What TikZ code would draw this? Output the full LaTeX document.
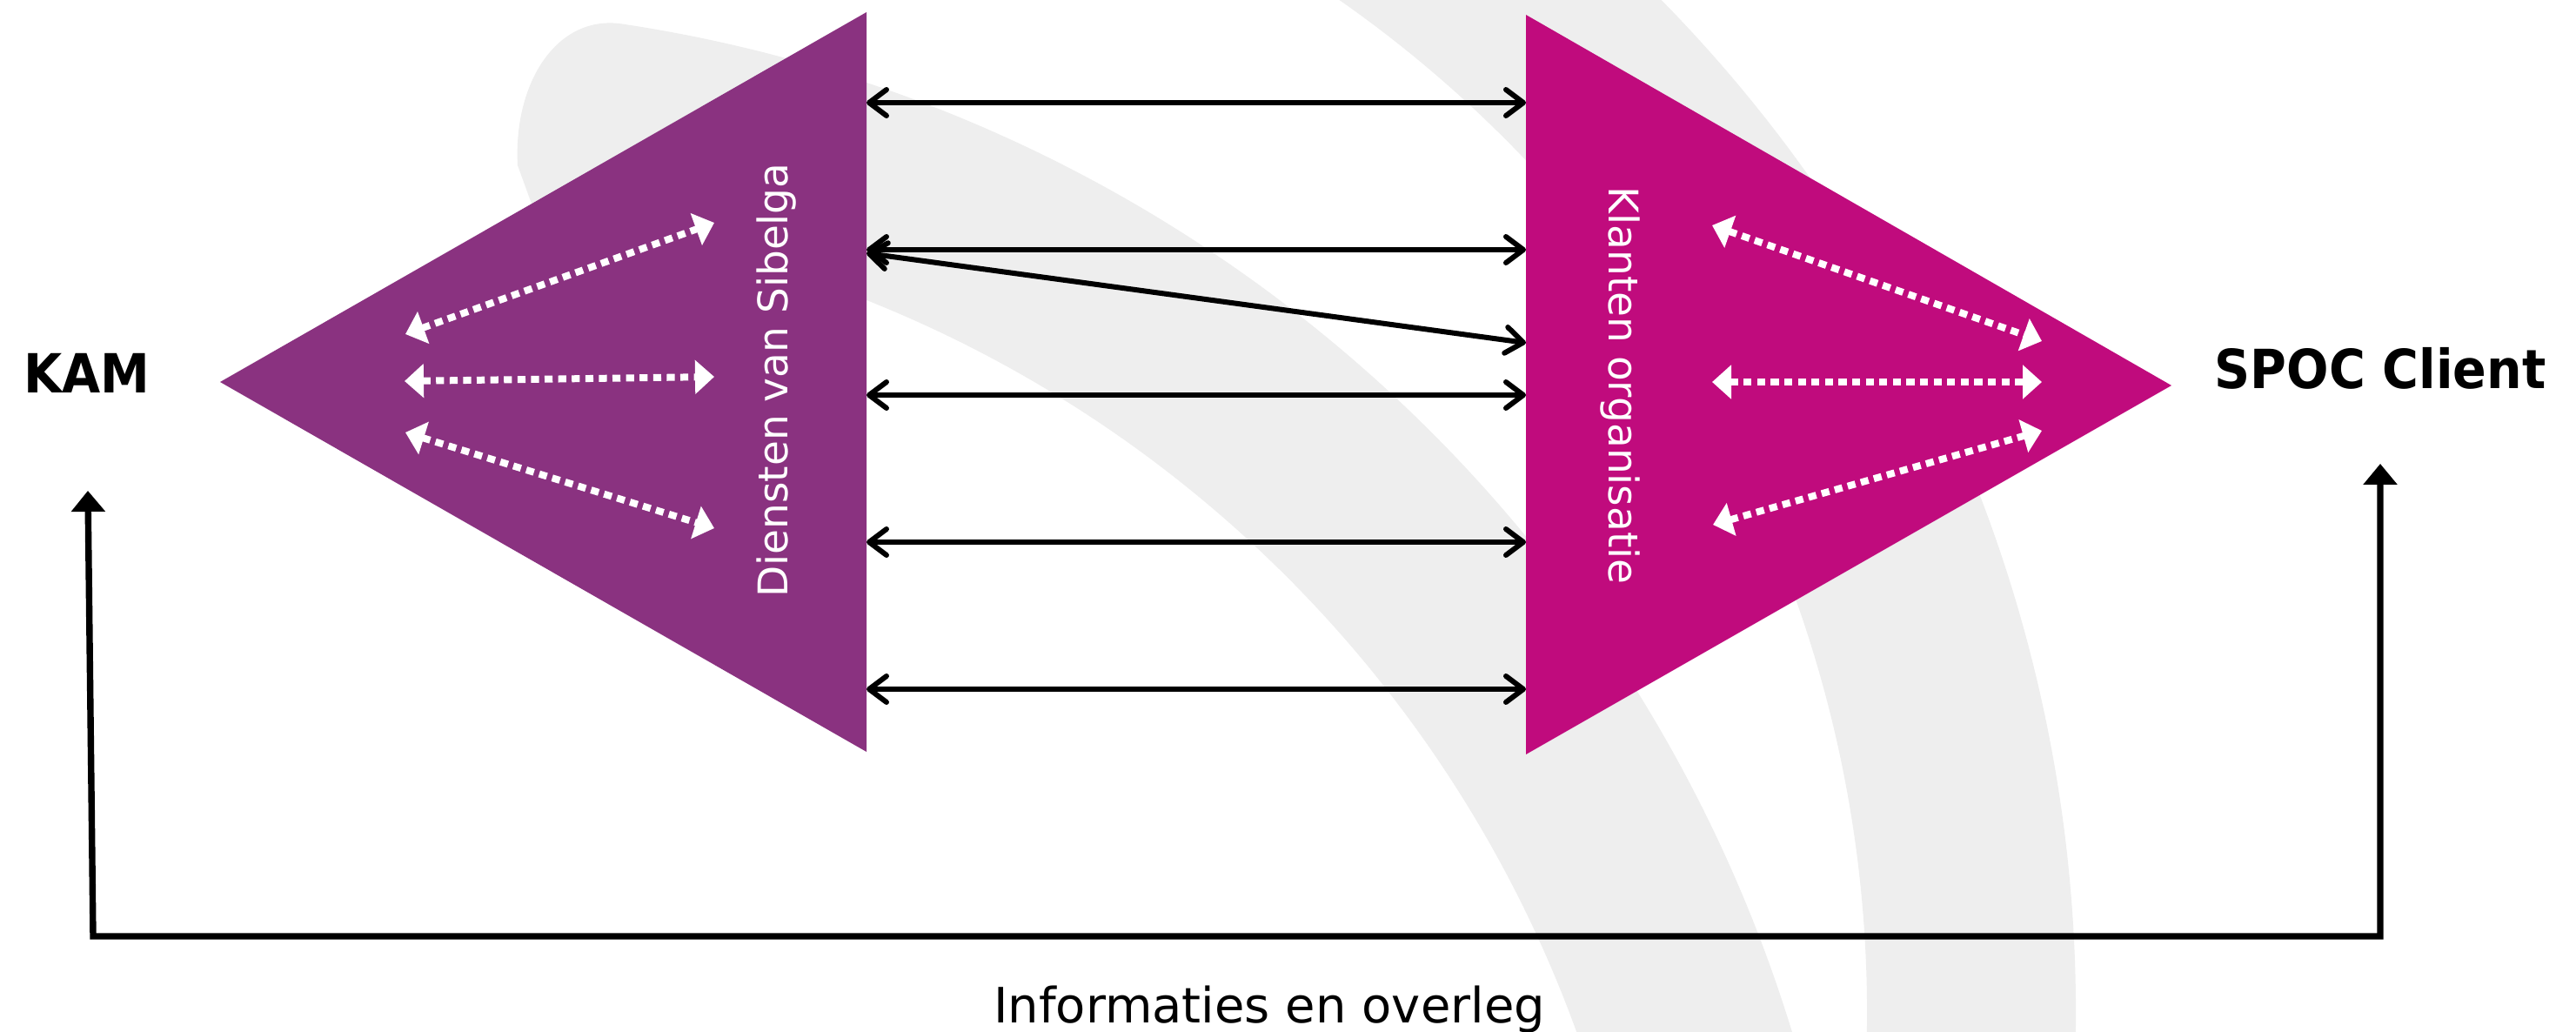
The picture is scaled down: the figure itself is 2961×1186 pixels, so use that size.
\documentclass[tikz,border=0pt]{standalone}
\usepackage{fontspec}
\setmainfont{DejaVu Sans}
\usetikzlibrary{arrows.meta}
\definecolor{sibpurple}{HTML}{8A3280}
\definecolor{sibmagenta}{HTML}{C00B7D}
\definecolor{bandgray}{HTML}{EEEEEE}
\begin{document}
\begin{tikzpicture}[x=0.5pt,y=-0.5pt,
  barb/.tip={Straight Barb[length=10pt,width=15pt,line cap=round,line join=round]},
  wtip/.tip={Triangle[length=11pt,width=19pt]},
  btip/.tip={Triangle[length=12pt,width=19pt]},
  link/.style={line width=3pt, draw=black, barb-barb},
  innerlink/.style={line width=4pt, draw=white, dash pattern=on 4.6pt off 3.2pt, wtip-wtip},
  feedback/.style={line width=3.7pt, draw=black, line join=miter, btip-btip},
  bigbold/.style={font=\fontsize{31pt}{31pt}\selectfont\bfseries, text=black, inner sep=0pt},
  vlabel/.style={font=\fontsize{23.5pt}{23.5pt}\selectfont, text=white, inner sep=0pt},
  caption/.style={font=\fontsize{28pt}{28pt}\selectfont, text=black, inner sep=0pt}]
\useasboundingbox (0,0) rectangle (2961,1186);
\fill[white] (0,0) rectangle (2961,1186);
% background bands (two arcs)
\coordinate (c1) at (468,1674);
\coordinate (c2) at (726,1164);
\begin{scope}
\clip (0,0) rectangle (2961,1186);
\fill[bandgray] ([shift={(-81.5:1665)}]c1)
  arc[start angle=-81.5, end angle=-12, radius=1665]
  -- ([shift={(-12:1430)}]c1)
  arc[start angle=-12, end angle=-84, radius=1430]
  -- (595,190) .. controls (590,95) and (640,17) .. ([shift={(-81.5:1665)}]c1) -- cycle;
\fill[bandgray] ([shift={(-62:1660)}]c2)
  arc[start angle=-62, end angle=8, radius=1660]
  -- ([shift={(8:1420)}]c2)
  arc[start angle=8, end angle=-66, radius=1420] -- cycle;
\end{scope}
% triangles
\fill[sibpurple] (253,439) -- (996,14) -- (996,864) -- cycle;
\fill[sibmagenta] (2496,443) -- (1754,17) -- (1754,867) -- cycle;
% labels
\node[bigbold, anchor=base] (kam) at (100,452) {\scalebox{0.92}[1]{KAM}};
\node[bigbold, anchor=base] (spoc) at (2736,447) {\scalebox{0.92}[1]{SPOC Client}};
\node[vlabel, rotate=90] (dienst) at (893,437) {Diensten van Sibelga};
\node[vlabel, rotate=-90] (klant) at (1862,443) {Klanten organisatie};
\node[caption, anchor=base] (info) at (1459,1175) {Informaties en overleg};
% connector end points
\coordinate (s1) at (996,118);  \coordinate (k1) at (1754,118);
\coordinate (s2) at (996,287);  \coordinate (k2) at (1754,287);
\coordinate (s2b) at (996,291); \coordinate (k2b) at (1754,394);
\coordinate (s3) at (996,454);  \coordinate (k3) at (1754,454);
\coordinate (s4) at (996,623);  \coordinate (k4) at (1754,623);
\coordinate (s5) at (996,792);  \coordinate (k5) at (1754,792);
\draw[link] (s1) -- (k1);
\draw[link] (s2) -- (k2);
\draw[link] (s2b) -- (k2b);
\draw[link] (s3) -- (k3);
\draw[link] (s4) -- (k4);
\draw[link] (s5) -- (k5);
% inner dotted arrows, left
\coordinate (la1) at (466,384); \coordinate (lb1) at (821,256);
\coordinate (la2) at (465,438); \coordinate (lb2) at (821,433);
\coordinate (la3) at (466,497); \coordinate (lb3) at (821,607);
\draw[innerlink] (la1) -- (lb1);
\draw[innerlink] (la2) -- (lb2);
\draw[innerlink] (la3) -- (lb3);
% inner dotted arrows, right
\coordinate (ra1) at (1968,259); \coordinate (rb1) at (2347,392);
\coordinate (ra2) at (1968,439); \coordinate (rb2) at (2347,439);
\coordinate (ra3) at (1969,603); \coordinate (rb3) at (2347,495);
\draw[innerlink] (ra1) -- (rb1);
\draw[innerlink] (ra2) -- (rb2);
\draw[innerlink] (ra3) -- (rb3);
% feedback loop
\coordinate (kamtip) at (101,564);
\coordinate (kamfoot) at (107,1076);
\coordinate (spocfoot) at (2736,1076);
\coordinate (spoctip) at (2736,533);
\draw[feedback] (kamtip) -- (kamfoot) -- (spocfoot) -- (spoctip);
\end{tikzpicture}
\end{document}
